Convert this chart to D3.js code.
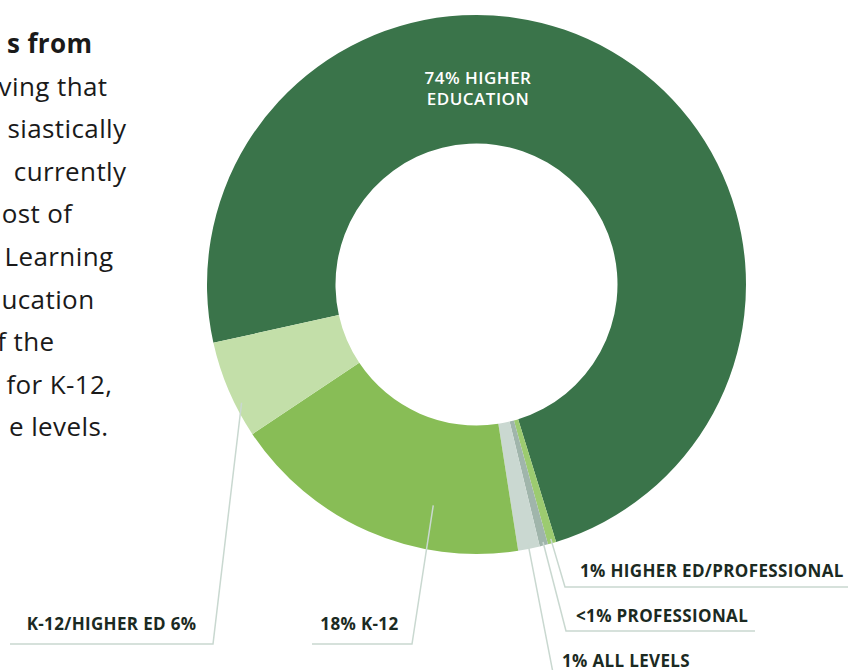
<!DOCTYPE html>
<html><head><meta charset="utf-8">
<script src="https://cdn.jsdelivr.net/npm/d3@7"></script>
<style>body{margin:0;background:#fff;overflow:hidden} svg{display:block}</style>
</head><body><svg id="c" width="848" height="670"></svg>
<script>
// ---- data ----
const categories = ["HIGHER EDUCATION", "HIGHER ED/PROFESSIONAL", "PROFESSIONAL", "ALL LEVELS", "K-12", "K-12/HIGHER ED"];
const values = [73.7, 0.5, 0.5, 1.3, 18.1, 5.9];
const sliceLabels = ["74% HIGHER EDUCATION", "1% HIGHER ED/PROFESSIONAL", "<1% PROFESSIONAL", "1% ALL LEVELS", "18% K-12", "K-12/HIGHER ED 6%"];
const colors = ["#3a744a", "#9ccb70", "#a0b5ab", "#cad8d1", "#88bd56", "#c3dfa9"];
const paragraphLines = ["s from", "ving that", "siastically", "currently", "ost of", "Learning", "ucation", "f the", "for K-12,", "e levels."];

// ---- layout ----
const cx = 476.5, cy = 284.5, R = 269.5, r0 = 141;
const startDeg = 257.5;
const svg = d3.select("#c");

const pie = d3.pie().sort(null).value(d => d)
  .startAngle(startDeg * Math.PI / 180)
  .endAngle(startDeg * Math.PI / 180 + 2 * Math.PI);
const arcs = pie(values);
const arc = d3.arc().innerRadius(r0).outerRadius(R);

const g = svg.append("g").attr("transform", `translate(${cx},${cy})`);
g.selectAll("path").data(arcs).join("path")
  .attr("d", arc).attr("fill", (d, i) => colors[i]);

// main label inside big slice
const main = svg.append("text").attr("text-anchor", "middle")
  .attr("font-family", "Open Sans").attr("font-weight", 600)
  .attr("font-size", 17).attr("letter-spacing", 0.5).attr("fill", "#ffffff");
main.append("tspan").attr("x", 478).attr("y", 84).text(sliceLabels[0].split(" ").slice(0, 2).join(" "));
main.append("tspan").attr("x", 478).attr("y", 105).text(sliceLabels[0].split(" ").slice(2).join(" "));

// leader layouts (index -> geometry)
const leaders = {
  1: {rad: 265, dA: 0, elbow: [565, 587], end: 860, tx: 580, ty: 577, anchor: "start"},
  2: {rad: 266, dA: 0, elbow: [566, 631], end: 755, tx: 576, ty: 622, anchor: "start"},
  3: {rad: 264, dA: 0, elbow: [554, 678], end: 720, tx: 562, ty: 667, anchor: "start"},
  4: {rad: 225, dA: -12.6, elbow: [412, 644], end: 312, tx: 398.5, ty: 630, anchor: "end"},
  5: {rad: 263, dA: -3.6, elbow: [213, 644], end: 10, tx: 196.5, ty: 630, anchor: "end"}
};
const lg = svg.append("g");
Object.entries(leaders).forEach(([k, L]) => {
  const a = arcs[+k];
  const mid = (a.startAngle + a.endAngle) / 2 + L.dA * Math.PI / 180;
  const sx = cx + L.rad * Math.sin(mid), sy = cy - L.rad * Math.cos(mid);
  lg.append("path")
    .attr("d", `M${sx},${sy}L${L.elbow[0]},${L.elbow[1]}L${L.end},${L.elbow[1]}`)
    .attr("fill", "none").attr("stroke", "#c9d8d0").attr("stroke-width", 1.5);
  lg.append("text").attr("x", L.tx).attr("y", L.ty).attr("text-anchor", L.anchor)
    .attr("font-family", "Open Sans").attr("font-weight", 700).attr("font-size", 17)
    .attr("letter-spacing", 0.35)
    .attr("fill", "#1b2a22").text(sliceLabels[+k]);
});

// clipped paragraph on the left
const paraRight = [92.5, 107.5, 126.5, 126.5, 72.5, 113.5, 94.5, 54.5, 112.5, 108.5];
const pg = svg.append("g").attr("font-family", "Open Sans").attr("font-size", 26)
  .attr("letter-spacing", 0.4).attr("fill", "#1a1a1a");
paragraphLines.forEach((t, i) => {
  pg.append("text").attr("x", paraRight[i]).attr("y", 53 + i * 42.6)
    .attr("text-anchor", "end").attr("font-weight", i === 0 ? 700 : 400).text(t);
});
</script></body></html>
